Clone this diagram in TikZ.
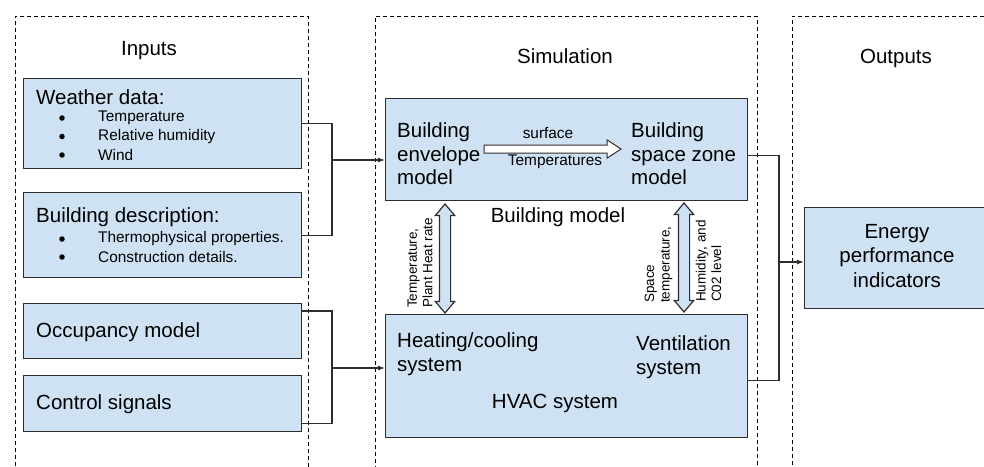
\documentclass[tikz,border=0pt]{standalone}
\usepackage{fontspec}
\setmainfont{Liberation Sans}
\usetikzlibrary{arrows.meta,shapes.arrows,calc}

\definecolor{boxblue}{RGB}{207,226,243}
\definecolor{edgegray}{RGB}{45,45,45}

\tikzset{
	panel/.style={draw=black, dash pattern=on 4pt off 3pt, line width=0.9pt, anchor=north west, inner sep=0},
	block/.style={draw=edgegray, fill=boxblue, line width=1.3pt, anchor=north west, inner sep=0},
	bigtext/.style={font=\fontsize{20.5}{23.5}\selectfont, align=left, inner sep=0},
	smalltext/.style={font=\fontsize{15.4}{18.5}\selectfont, inner sep=0},
	dot/.style={circle, fill=black, inner sep=0, minimum size=5.5pt},
	sidetext/.style={font=\fontsize{13.5}{15.5}\selectfont, align=left, inner sep=0, rotate=90, anchor=west},
	link/.style={draw=edgegray, line width=1.2pt},
	flow/.style={link, -{Latex[length=7pt,width=5pt]}},
	hollowarrow/.style={single arrow, draw=edgegray, fill=white, line width=1pt, inner xsep=0, inner ysep=3.5pt,
		minimum width=17pt, single arrow head extend=5pt, single arrow tip angle=66},
	exchange/.style={double arrow, draw=edgegray, fill=boxblue, line width=1.2pt, inner xsep=0, inner ysep=5pt,
		minimum width=19pt, double arrow head extend=4pt, double arrow tip angle=80, rotate=90}
}

\begin{document}
\begin{tikzpicture}[x=1pt,y=1pt]
	\useasboundingbox (0,0) rectangle (984,-466);
	\clip (0,0) rectangle (984,-466);
	
	% panels
	\node[panel, minimum width=293pt, minimum height=480pt] (inpanel) at (15,-16) {};
	\node[panel, minimum width=382pt, minimum height=480pt] (simpanel) at (375,-16) {};
	\node[panel, minimum width=220pt, minimum height=480pt] (outpanel) at (792,-16) {};
	
	\node[bigtext, anchor=base] (intitle) at (149,-55) {Inputs};
	\node[bigtext, anchor=base] (simtitle) at (565,-63) {Simulation};
	\node[bigtext, anchor=base] (outtitle) at (896,-63) {Outputs};
	
	% inputs
	\node[block, minimum width=278pt, minimum height=90pt] (weather) at (23,-78) {};
	\node[block, minimum width=278pt, minimum height=85pt] (bdesc) at (23,-192) {};
	\node[block, minimum width=278pt, minimum height=55pt] (occ) at (23,-303) {};
	\node[block, minimum width=278pt, minimum height=56pt] (ctrl) at (23,-375) {};
	
	\node[bigtext, anchor=west] (weathertxt) at (36,-97) {Weather data:};
	\foreach \t [count=\i] in {Temperature, Relative humidity, Wind} {
		\node[dot] (wdot\i) at (62,{-118-18.5*(\i-1)}) {};
		\node[smalltext, anchor=west] (witem\i) at (98,{-118-18.5*(\i-1)}) {\t};
	}
	\node[bigtext, anchor=west] (bdesctxt) at (36,-217) {Building description:};
	\foreach \t [count=\i] in {Thermophysical properties., Construction details.} {
		\node[dot] (bdot\i) at (62,{-239-18*(\i-1)}) {};
		\node[smalltext, anchor=west] (bitem\i) at (98,{-239-18*(\i-1)}) {\t};
	}
	\node[bigtext, anchor=west] (occtxt) at (36,-332) {Occupancy model};
	\node[bigtext, anchor=west] (ctrltxt) at (36,-404) {Control signals};
	
	% simulation
	\node[block, minimum width=362pt, minimum height=102pt] (bmodel) at (385,-98) {};
	\node[block, minimum width=362pt, minimum height=123pt] (hvac) at (385,-314) {};
	
	\node[bigtext, anchor=west] (envtxt) at (397,-154) {Building\\envelope\\model};
	\node[bigtext, anchor=west] (zonetxt) at (631,-154) {Building\\space zone\\model};
	\node[bigtext] (bmodeltxt) at (558,-217) {Building model};
	
	\node[hollowarrow, minimum height=137pt] (surfarrow) at (549.5,-149) {};
	\node[smalltext] (surftxt) at (548,-133) {surface};
	\node[smalltext] (temptxt) at (555,-162) {Temperatures};
	
	\node[bigtext, anchor=west] (heattxt) at (397,-354) {Heating/cooling\\system};
	\node[bigtext, anchor=west] (venttxt) at (636,-357) {Ventilation\\system};
	\node[bigtext] (hvactxt) at (555,-403) {HVAC system};
	
	\node[exchange, minimum height=109pt] (heatarrow) at (445,-258.5) {};
	\node[exchange, minimum height=109pt] (ventarrow) at (684,-257.5) {};
	\node[sidetext] (heatlbl) at (420,-308) {Temperature,\\Plant Heat rate};
	\node[sidetext] (spacelbl) at (658.5,-303) {Space\\temperature,};
	\node[sidetext] (humlbl) at (708.5,-302) {Humidity, and\\C02 level};
	
	% outputs
	\node[block, minimum width=190pt, minimum height=101pt] (energy) at (804,-207) {};
	\node[bigtext, align=center, font=\fontsize{20.5}{24.5}\selectfont] (energytxt) at (897,-256) {Energy\\performance\\indicators};
	
	% connectors
	\coordinate (injoinA) at (332,-160);
	\coordinate (injoinB) at (332,-368);
	\coordinate (outjoin) at (779,-262);
	\draw[link] (weather.east) -| (injoinA) |- (bdesc.east);
	\draw[flow] (injoinA) -- (bmodel.west |- injoinA);
	\draw[link] ($(occ.north east)+(0,-8)$) -| (injoinB) |- ($(ctrl.south east)+(0,9)$);
	\draw[flow] (injoinB) -- (hvac.west |- injoinB);
	\draw[link] ($(bmodel.east)+(0,-6)$) -| (outjoin) |- ($(hvac.east)+(0,-4.5)$);
	\draw[flow] (outjoin) -- (energy.west |- outjoin);
	
\end{tikzpicture}
\end{document}
